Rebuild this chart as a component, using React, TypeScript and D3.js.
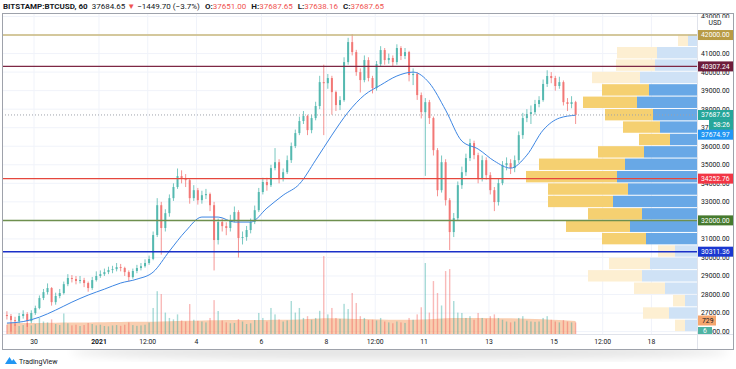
import * as d3 from 'd3'

const W = 736
const H = 369
const PLOT = { left: 2, right: 697, top: 13, bottom: 334 }
const AXIS_RIGHT = 733
const TIME_BOTTOM = 349
const FONT = 'Roboto, "Noto Sans", sans-serif'

// 3-hour candles, starting 2020-12-29 04:00 UTC
const START = Date.UTC(2020, 11, 29, 4)
const STEP = 3 * 3600 * 1000
const FIRST_OPEN = 26900
const CLOSES = [
  26840, 26620, 26560, 26840, 26950, 26560, 27000, 27270, 27810, 28130,
  28350, 27590, 27920, 28080, 28560, 28890, 28840, 28730, 28780, 28620,
  28350, 28780, 29000, 29100, 29210, 29320, 29370, 29480, 29430, 29210,
  28940, 29270, 29430, 29530, 29700, 29920, 31210, 32820, 31590, 32390,
  33200, 33800, 34390, 34280, 34170, 33200, 33630, 33090, 33360, 33420,
  32820, 30940, 31910, 31690, 31590, 32020, 32450, 31050, 31100, 31480,
  31910, 32550, 33530, 34070, 33900, 34820, 35140, 34280, 34600, 35250,
  36010, 36710, 37360, 37630, 36870, 37520, 38170, 39460, 39400, 39680,
  38920, 38220, 38490, 40540, 41620, 41080, 40000, 39570, 40650, 39680,
  39140, 40430, 41190, 40650, 40760, 40540, 41300, 40870, 41080, 39840,
  39900, 38760, 37840, 38380, 37520, 35790, 33630, 35140, 33090, 31370,
  32120, 33900, 34600, 35360, 36170, 35520, 34280, 35250, 34440, 33630,
  32990, 34010, 34980, 35090, 34820, 35250, 36600, 37520, 37740, 37840,
  38280, 38490, 39360, 39790, 39680, 39250, 39460, 38380, 38280, 38380,
  37688,
]
const HIGHS = [
  27100, 26950, 26800, 27000, 27150, 27050, 27150, 27400, 27950, 28300,
  28600, 28400, 28100, 28300, 28700, 29100, 29050, 29000, 29000, 28900,
  28700, 28950, 29250, 29300, 29400, 29500, 29550, 29700, 29650, 29500,
  29300, 29400, 29600, 29700, 29900, 30100, 31400, 33200, 33000, 32600,
  33400, 34000, 34800, 34700, 34500, 34250, 33900, 33750, 33600, 33700,
  33500, 33000, 32100, 32100, 31900, 32300, 32750, 32550, 31400, 31700,
  32100, 32800, 33750, 34300, 34300, 35000, 35900, 35300, 34800, 35500,
  36200, 36900, 37600, 37900, 37700, 37700, 38400, 39800, 40400, 39900,
  39800, 39000, 38700, 40800, 41850, 42050, 41200, 40200, 40900, 40800,
  39800, 40600, 41400, 41300, 41000, 40900, 41500, 41400, 41300, 41150,
  40200, 40000, 38900, 38600, 38500, 37600, 35900, 35500, 35300, 33200,
  32400, 34100, 34900, 35600, 36400, 36300, 35650, 35500, 35400, 34600,
  33800, 34250, 35200, 35400, 35300, 35500, 36800, 37800, 38000, 38200,
  38500, 38700, 39600, 40100, 40000, 39800, 39750, 39550, 38600, 38700,
  38450,
]
const LOWS = [
  26650, 26000, 26300, 26450, 26700, 26250, 26450, 26900, 27200, 27700,
  28000, 27400, 27450, 27800, 28000, 28450, 28650, 28550, 28600, 28400,
  28150, 28250, 28700, 28900, 29000, 29100, 29150, 29250, 29250, 29000,
  28700, 28850, 29150, 29300, 29450, 29600, 29850, 31100, 30150, 31400,
  32200, 33050, 33700, 34000, 33800, 32900, 33050, 32850, 32900, 33150,
  32500, 29300, 30700, 31400, 31200, 31400, 31900, 30000, 30700, 30900,
  31300, 31800, 32450, 33400, 33600, 33800, 34700, 34000, 34100, 34500,
  35100, 35900, 36600, 37200, 36600, 36700, 37400, 38000, 36600, 39100,
  37700, 37900, 37950, 38400, 40400, 40900, 39800, 38900, 39450, 39500,
  38850, 39000, 40300, 40400, 40450, 40300, 40400, 40650, 40700, 39500,
  39300, 38500, 37500, 34400, 37200, 35500, 33300, 33500, 32800, 30400,
  31100, 32000, 33700, 34400, 35200, 35300, 34000, 34100, 34200, 33400,
  32500, 32800, 33900, 34700, 34500, 34600, 35100, 36400, 37300, 37200,
  37700, 38100, 38400, 39200, 39400, 39000, 39100, 38200, 37900, 38050,
  37200,
]
const VOLUMES = [
  520, 640, 580, 450, 500, 620, 480, 560, 900, 700,
  650, 820, 560, 500, 1150, 600, 480, 520, 450, 500,
  620, 560, 480, 520, 450, 430, 480, 500, 460, 520,
  650, 500, 460, 480, 520, 640, 1460, 2400, 2240, 1200,
  900, 820, 1100, 760, 700, 1680, 800, 740, 700, 650,
  900, 1900, 1290, 760, 650, 600, 620, 840, 700, 560,
  600, 780, 1180, 900, 700, 1460, 1100, 820, 700, 760,
  1850, 1200, 1460, 900, 1000, 800, 900, 1300, 4370, 1100,
  1460, 900, 850, 1690, 1400, 2300, 1740, 1000, 900, 780,
  800, 760, 900, 700, 650, 600, 700, 650, 620, 900,
  800, 1100, 1500, 3980, 1200, 2970, 2300, 1600, 3530, 3640,
  1850, 1200, 1180, 900, 1000, 800, 1180, 900, 850, 1000,
  1100, 900, 800, 700, 650, 700, 900, 1000, 750, 700,
  680, 700, 900, 1000, 800, 700, 650, 780, 700, 650,
  650,
]
// moving averages, one value every 4th candle (12 h)
const PRICE_MA = [
  26460, 26540, 26780, 27160, 27590, 27970, 28290, 28620, 28830, 29210,
  30340, 31420, 32180, 32180, 31910, 31910, 32660, 33360, 33960, 35250,
  36600, 37840, 38760, 39300, 39790, 40000, 39410, 37950, 36280, 35850,
  35200, 34820, 35520, 36870, 37520, 37675,
]
const VOLUME_MA = [
  600, 610, 620, 630, 640, 650, 660, 670, 680, 690,
  720, 740, 760, 770, 780, 780, 790, 800, 820, 860,
  880, 860, 840, 820, 800, 800, 830, 880, 900, 900,
  890, 880, 860, 830, 780, 729,
]
// visible-range volume profile, 24 rows from the lowest price up
const PROFILE_UP = [120, 280, 120, 320, 550, 470, 220, 510, 670, 550, 840, 690, 800, 720, 530, 270, 370, 440, 600, 480, 570, 420, 400, 90]
const PROFILE_DOWN = [100, 260, 120, 310, 540, 410, 170, 440, 640, 540, 650, 800, 910, 860, 460, 310, 370, 480, 540, 470, 480, 390, 400, 100]
const VALUE_AREA = [7, 19]

const LEVELS = [
  { price: 42000, color: '#c9b77c', width: 1.5, tag: '#b89b45' },
  { price: 40307.24, color: '#7d2744', width: 1.2, tag: '#6e1c3a' },
  { price: 34252.76, color: '#e5473d', width: 1.2, tag: '#f23645' },
  { price: 32000, color: '#6e8f4e', width: 1.5, tag: '#467a2e' },
  { price: 30311.36, color: '#1a30c8', width: 1.5, tag: '#1a37d0' },
]
const LAST_PRICE = 37687.65
const MA_LAST = 37674.97
const COUNTDOWN = '58:26'
const CURRENT_VOLUME = '6'
const PRICE_TICKS = d3.range(26000, 43001, 1000)
const TIME_TICKS: [number, string][] = [
  [Date.UTC(2020, 11, 30), '30'],
  [Date.UTC(2021, 0, 1), '2021'],
  [Date.UTC(2021, 0, 2, 12), '12:00'],
  [Date.UTC(2021, 0, 4), '4'],
  [Date.UTC(2021, 0, 6), '6'],
  [Date.UTC(2021, 0, 8), '8'],
  [Date.UTC(2021, 0, 9, 12), '12:00'],
  [Date.UTC(2021, 0, 11), '11'],
  [Date.UTC(2021, 0, 13), '13'],
  [Date.UTC(2021, 0, 15), '15'],
  [Date.UTC(2021, 0, 16, 12), '12:00'],
  [Date.UTC(2021, 0, 18), '18'],
]

const UP = '#26a69a'
const DOWN = '#ef5350'

function Tag({ y, text, bg, fg = '#fff', x0 = PLOT.right, x1 = AXIS_RIGHT }: { y: number; text: string; bg: string; fg?: string; x0?: number; x1?: number }) {
  return (
    <g>
      <rect x={x0} y={y - 5} width={x1 - x0} height={10} fill={bg} />
      <text x={x0 + 4} y={y + 2.4} fontSize={6.8} fill={fg} fontFamily={FONT}>{text}</text>
    </g>
  )
}

export default function App() {
  const x = d3.scaleUtc()
    .domain([new Date(Date.UTC(2020, 11, 29, 0, 22)), new Date(Date.UTC(2021, 0, 19, 9, 39))])
    .range([PLOT.left, PLOT.right])
  const y = d3.scaleLinear().domain([26000, 43000]).range([331.6, 16.5])
  const yVol = d3.scaleLinear().domain([0, 6000]).range([PLOT.bottom, 227])

  const candles = CLOSES.map((c, i) => ({
    t: new Date(START + i * STEP),
    o: i === 0 ? FIRST_OPEN : CLOSES[i - 1],
    h: HIGHS[i],
    l: LOWS[i],
    c,
    v: VOLUMES[i],
  }))
  const maX = (k: number) => x(new Date(START + k * 4 * STEP))
  const maLine = d3.line<number>().x((_, k) => maX(k)).y((d) => y(d)).curve(d3.curveMonotoneX)
  const volArea = d3.area<number>().x((_, k) => maX(k)).y0(PLOT.bottom).y1((d) => yVol(d)).curve(d3.curveMonotoneX)

  const pLow = d3.min(LOWS) as number
  const pHigh = d3.max(HIGHS) as number
  const rowStep = (pHigh - pLow) / PROFILE_UP.length
  const xProf = d3.scaleLinear().domain([0, 1710]).range([0, 171])

  // tick labels fully hidden behind a tag are not drawn
  const tagYs = [...LEVELS.map((l) => y(l.price)), y(LAST_PRICE)]
  const ticks = PRICE_TICKS.filter((p) => tagYs.every((ty) => Math.abs(ty - y(p)) > 3))
  const volLast = VOLUME_MA[VOLUME_MA.length - 1]

  return (
    <svg width={W} height={H} style={{ position: 'absolute', left: 0, top: 0, background: '#fff' }}>
      <defs>
        <clipPath id="plot">
          <rect x={PLOT.left} y={PLOT.top} width={PLOT.right - PLOT.left} height={PLOT.bottom - PLOT.top} />
        </clipPath>
        <clipPath id="axis">
          <rect x={PLOT.right} y={PLOT.top} width={AXIS_RIGHT - PLOT.right} height={PLOT.bottom - PLOT.top + 1} />
        </clipPath>
        <filter id="blur"><feGaussianBlur stdDeviation="5" /></filter>
      </defs>

      {/* drop shadow under the chart */}
      <ellipse cx={400} cy={352} rx={330} ry={8} fill="#000" opacity={0.1} filter="url(#blur)" />
      <rect x={0} y={0} width={W} height={TIME_BOTTOM} fill="#fff" />

      {/* header */}
      <text x={3} y={9} fontSize={8} fontFamily={FONT} fill="#131722">
        <tspan fontWeight={700}>BITSTAMP:BTCUSD, 60</tspan>
        <tspan dx={4}>37684.65</tspan>
        <tspan dx={2} fill={DOWN}>▼</tspan>
        <tspan dx={2}>−1449.70 (−3.7%)</tspan>
        <tspan dx={5} fontWeight={700}>O:</tspan><tspan fill={DOWN}>37651.00</tspan>
        <tspan dx={5} fontWeight={700}>H:</tspan><tspan fill={DOWN}>37687.65</tspan>
        <tspan dx={5} fontWeight={700}>L:</tspan><tspan fill={DOWN}>37638.16</tspan>
        <tspan dx={5} fontWeight={700}>C:</tspan><tspan fill={DOWN}>37687.65</tspan>
      </text>

      <g clipPath="url(#plot)">
        {/* grid */}
        {PRICE_TICKS.map((p) => (
          <line key={p} x1={PLOT.left} x2={PLOT.right} y1={y(p)} y2={y(p)} stroke="#f0f3fa" />
        ))}
        {TIME_TICKS.map(([t]) => (
          <line key={t} x1={x(new Date(t))} x2={x(new Date(t))} y1={PLOT.top} y2={PLOT.bottom} stroke="#f0f3fa" />
        ))}

        {/* volume */}
        <path d={volArea(VOLUME_MA) ?? ''} fill="#f4a56f" opacity={0.55} />
        {candles.map((d, i) => (
          <rect key={i} x={x(d.t) - 0.7} width={1.4} y={yVol(d.v)} height={PLOT.bottom - yVol(d.v)}
            fill={d.c >= d.o ? UP : DOWN} opacity={0.4} />
        ))}

        {/* volume profile */}
        {PROFILE_UP.map((up, i) => {
          const inVA = i >= VALUE_AREA[0] && i <= VALUE_AREA[1]
          const top = y(pLow + (i + 1) * rowStep) + 0.5
          const bottom = y(pLow + i * rowStep) - 0.5
          const wUp = xProf(up)
          const wDn = xProf(PROFILE_DOWN[i])
          return (
            <g key={i}>
              <rect x={PLOT.right - wUp} y={top} width={wUp} height={bottom - top} fill={inVA ? '#68a8e6' : '#cfe2f6'} />
              <rect x={PLOT.right - wUp - wDn} y={top} width={wDn} height={bottom - top} fill={inVA ? '#f5d071' : '#fdefd2'} />
            </g>
          )
        })}

        {/* candles */}
        {candles.map((d, i) => {
          const cx = x(d.t)
          const col = d.c >= d.o ? UP : DOWN
          const yt = y(Math.max(d.o, d.c))
          const yb = y(Math.min(d.o, d.c))
          return (
            <g key={i} opacity={0.78}>
              <line x1={cx} x2={cx} y1={y(d.h)} y2={y(d.l)} stroke={col} strokeWidth={0.8} />
              <rect x={cx - 1} width={2} y={yt} height={Math.max(0.8, yb - yt)} fill={col} />
            </g>
          )
        })}

        {/* moving average */}
        <path d={maLine(PRICE_MA) ?? ''} fill="none" stroke="#3d86e3" strokeWidth={1} />

        {/* horizontal levels */}
        {LEVELS.map((l) => (
          <line key={l.price} x1={PLOT.left} x2={PLOT.right} y1={y(l.price)} y2={y(l.price)} stroke={l.color} strokeWidth={l.width} />
        ))}
        <line x1={PLOT.left} x2={PLOT.right} y1={y(LAST_PRICE)} y2={y(LAST_PRICE)} stroke="#9ea2ab" strokeDasharray="1 2" />
      </g>

      {/* price axis */}
      <g clipPath="url(#axis)">
        {ticks.map((p) => (
          <text key={p} x={701} y={y(p) + 2.4} fontSize={6.8} fill="#131722" fontFamily={FONT}>{p.toFixed(2)}</text>
        ))}
        <rect x={PLOT.right + 1} y={18} width={AXIS_RIGHT - PLOT.right - 1} height={9} fill="#fff" />
        <text x={715} y={25} fontSize={6.8} fill="#131722" fontFamily={FONT} textAnchor="middle">USD</text>
        {LEVELS.map((l) => (
          <Tag key={l.price} y={y(l.price)} text={l.price.toFixed(2)} bg={l.tag} />
        ))}
        <Tag y={y(LAST_PRICE)} text={LAST_PRICE.toFixed(2)} bg={UP} />
        <Tag y={y(LAST_PRICE) + 10} text={COUNTDOWN} bg={UP} x0={709} />
        <Tag y={y(MA_LAST) + 19.5} text={MA_LAST.toFixed(2)} bg="#2196f3" />
        <Tag y={yVol(volLast) - 0.5} text={String(volLast)} bg="#f5a66e" fg="#131722" x0={PLOT.right + 1} x1={716} />
        <rect x={PLOT.right + 1} y={327} width={14} height={8} fill="#4fb3a3" />
        <text x={PLOT.right + 6} y={333} fontSize={6.8} fill="#fff" fontFamily={FONT}>{CURRENT_VOLUME}</text>
      </g>

      {/* time axis */}
      {TIME_TICKS.map(([t, label]) => (
        <text key={t} x={x(new Date(t))} y={344} fontSize={6.8} fill="#131722" fontFamily={FONT}
          textAnchor="middle" fontWeight={label === '2021' ? 700 : 400}>{label}</text>
      ))}

      {/* frame */}
      <line x1={PLOT.left} x2={AXIS_RIGHT} y1={PLOT.bottom + 0.5} y2={PLOT.bottom + 0.5} stroke="#e0e3eb" />
      <line x1={PLOT.right + 0.5} x2={PLOT.right + 0.5} y1={PLOT.top} y2={TIME_BOTTOM} stroke="#e0e3eb" />
      <rect x={PLOT.left + 0.5} y={PLOT.top + 0.5} width={AXIS_RIGHT - PLOT.left} height={TIME_BOTTOM - PLOT.top} fill="none" stroke="#9ea2ab" />

      {/* logo */}
      <path d="M5 364 L9.5 357 L12 361 L13.5 359 L17 364 Z" fill="#2196f3" />
      <text x={19} y={364} fontSize={7} fill="#131722" fontFamily={FONT}>TradingView</text>
    </svg>
  )
}
